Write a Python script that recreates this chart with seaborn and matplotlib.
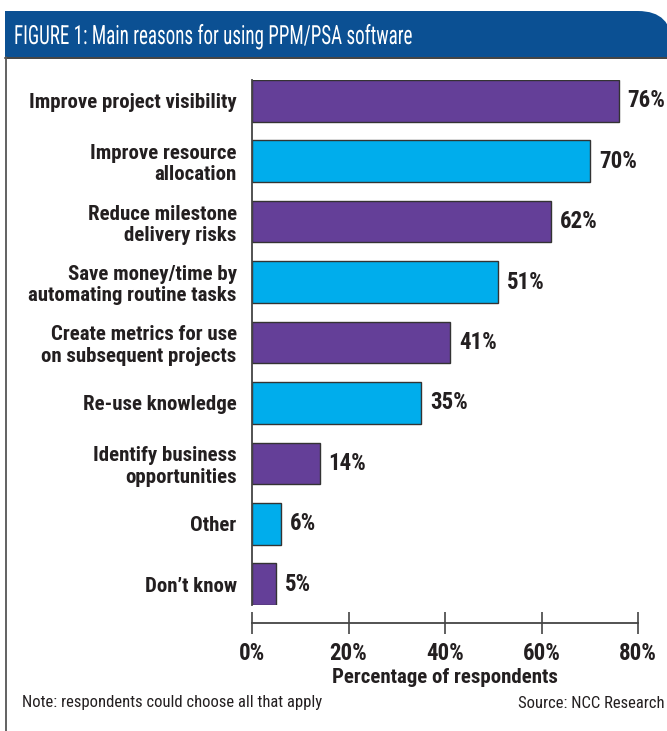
import os
import matplotlib
matplotlib.use("Agg")
import matplotlib.pyplot as plt
from matplotlib import font_manager as fm
from matplotlib.patches import PathPatch
from matplotlib.path import Path
from matplotlib.lines import Line2D
from matplotlib.transforms import Affine2D
from matplotlib.patheffects import AbstractPathEffect
import seaborn as sns
import pandas as pd

categories = [
    "Improve project visibility",
    "Improve resource\nallocation",
    "Reduce milestone\ndelivery risks",
    "Save money/time by\nautomating routine tasks",
    "Create metrics for use\non subsequent projects",
    "Re-use knowledge",
    "Identify business\nopportunities",
    "Other",
    "Don\u2019t know",
]
values = [76, 70, 62, 51, 41, 35, 14, 6, 5]
tick_values = [0, 20, 40, 60, 80]
tick_labels = ["0%", "20%", "40%", "60%", "80%"]

PURPLE = "#643f98"
CYAN = "#00adec"
INK = "#231f20"
bar_colors = [PURPLE if i % 2 == 0 else CYAN for i in range(len(categories))]

sns.set_theme(style="white")


def find_condensed(weight):
    """Return the file of an installed condensed/narrow face of the given weight."""
    order = ["liberation sans narrow", "roboto condensed", "dejavu sans condensed",
             "open sans condensed", "noto sans condensed"]
    best = None
    for f in fm.fontManager.ttflist:
        base = os.path.basename(f.fname).lower()
        name = f.name.lower()
        if not any(k in base or k in name for k in ("condensed", "narrow")):
            continue
        if any(k in base for k in ("semi", "extra", "ultra", "italic", "oblique")):
            continue
        if f.style != "normal" or f.weight != weight:
            continue
        key = next((i for i, o in enumerate(order) if o in name or o.replace(" ", "") in base), 99)
        if best is None or key < best[0]:
            best = (key, f.fname)
    return best[1] if best else None


bold_file = find_condensed(700)
reg_file = find_condensed(400)
BASE_SQUEEZE = 1.0 if bold_file else 0.8


class Squeeze(AbstractPathEffect):
    """Narrow glyphs horizontally about the text's alignment anchor."""

    def __init__(self, sx, anchor="left"):
        super().__init__()
        self.sx = sx
        self.anchor = anchor

    def draw_path(self, renderer, gc, tpath, affine, rgbFace=None):
        ext = tpath.get_extents()
        if self.anchor == "right":
            a = ext.x1
        elif self.anchor == "center":
            a = (ext.x0 + ext.x1) / 2
        else:
            a = 0
        t = Affine2D().translate(-a, 0).scale(self.sx, 1).translate(a, 0) + affine
        renderer.draw_path(gc, tpath, t, rgbFace)


def fp(size, bold):
    f = bold_file if bold else reg_file
    if f:
        return fm.FontProperties(fname=f, size=size)
    return fm.FontProperties(family="Liberation Sans", size=size,
                             weight="bold" if bold else "normal")


def style(text, size, bold, anchor, squeeze=1.0):
    text.set_fontproperties(fp(size, bold))
    sx = BASE_SQUEEZE * squeeze
    if sx != 1.0:
        text.set_path_effects([Squeeze(sx, anchor)])


W, H = 667, 731
fig = plt.figure(figsize=(W / 100, H / 100), dpi=100)


def fx(px):
    return px / W


def fy(py):
    return 1 - py / H


# header banner with a rounded top-right corner
r = 34
x0, x1, yt, yb = 5, 672, 11, 57
verts = [
    (fx(x0), fy(yb)), (fx(x0), fy(yt)), (fx(x1 - r), fy(yt)),
    (fx(x1), fy(yt)), (fx(x1), fy(yt + r)),
    (fx(x1), fy(yb)), (fx(x0), fy(yb)),
]
codes = [Path.MOVETO, Path.LINETO, Path.LINETO, Path.CURVE3, Path.CURVE3,
         Path.LINETO, Path.CLOSEPOLY]
fig.patches.append(PathPatch(Path(verts, codes), facecolor="#0b5093",
                             edgecolor="none", transform=fig.transFigure))
fig.lines.append(Line2D([fx(5), fx(667)], [fy(57.5), fy(57.5)], color="#333333",
                        lw=1.3, transform=fig.transFigure))
fig.lines.append(Line2D([fx(6), fx(6)], [fy(57), fy(731)], color="#555555",
                        lw=1.3, transform=fig.transFigure))
title = fig.text(fx(14), fy(44), "FIGURE 1: Main reasons for using PPM/PSA software",
                 color="white", va="baseline", ha="left")
style(title, 19, False, "left", squeeze=0.72)

# bar chart
ax = fig.add_axes([fx(252), fy(605), fx(638) - fx(252), (605 - 80) / H])
df = pd.DataFrame({"reason": categories, "pct": values})
sns.barplot(data=df, y="reason", x="pct", hue="reason", palette=bar_colors,
            saturation=1, orient="h", width=0.687, edgecolor="#333333",
            linewidth=1.0, legend=False, ax=ax)
half = 0.687 / 2
ax.set_ylim(len(categories) - 1 + half, -half)
ax.set_xlim(0, 80)

for i, v in enumerate(values):
    t = ax.annotate(f"{v}%", xy=(v, i), xytext=(6.5, 0), textcoords="offset points",
                    ha="left", va="center", color=INK)
    style(t, 16.5, True, "left")

for s in ["top", "right"]:
    ax.spines[s].set_visible(False)
ax.spines["left"].set_color("#444444")
ax.spines["left"].set_linewidth(1.3)
ax.spines["bottom"].set_color("#444444")
ax.spines["bottom"].set_linewidth(1.3)
ax.spines["bottom"].set_position(("outward", 13))

ax.set_xticks(tick_values)
ax.set_xticklabels(tick_labels)
ax.tick_params(axis="x", bottom=True, direction="inout", length=15.5, width=1.2,
               color="#444444", pad=6, labelcolor=INK)
ax.tick_params(axis="y", left=False, length=0, pad=11, labelcolor=INK)
for lab in ax.get_xticklabels():
    style(lab, 16.5, True, "center")
for lab in ax.get_yticklabels():
    style(lab, 15, True, "right")
    lab.set_horizontalalignment("right")
    lab.set_multialignment("right")
    lab.set_linespacing(1.15)

ax.set_ylabel("")
ax.set_xlabel("Percentage of respondents", color=INK, labelpad=2)
style(ax.xaxis.label, 15, True, "center")

note = fig.text(fx(22), fy(703), "Note: respondents could choose all that apply",
                va="center", ha="left", color=INK)
style(note, 12, False, "left")
src = fig.text(fx(664), fy(703), "Source: NCC Research",
               va="center", ha="right", color=INK)
style(src, 12, False, "right")

fig.savefig("out.png", dpi=100, facecolor="white")
